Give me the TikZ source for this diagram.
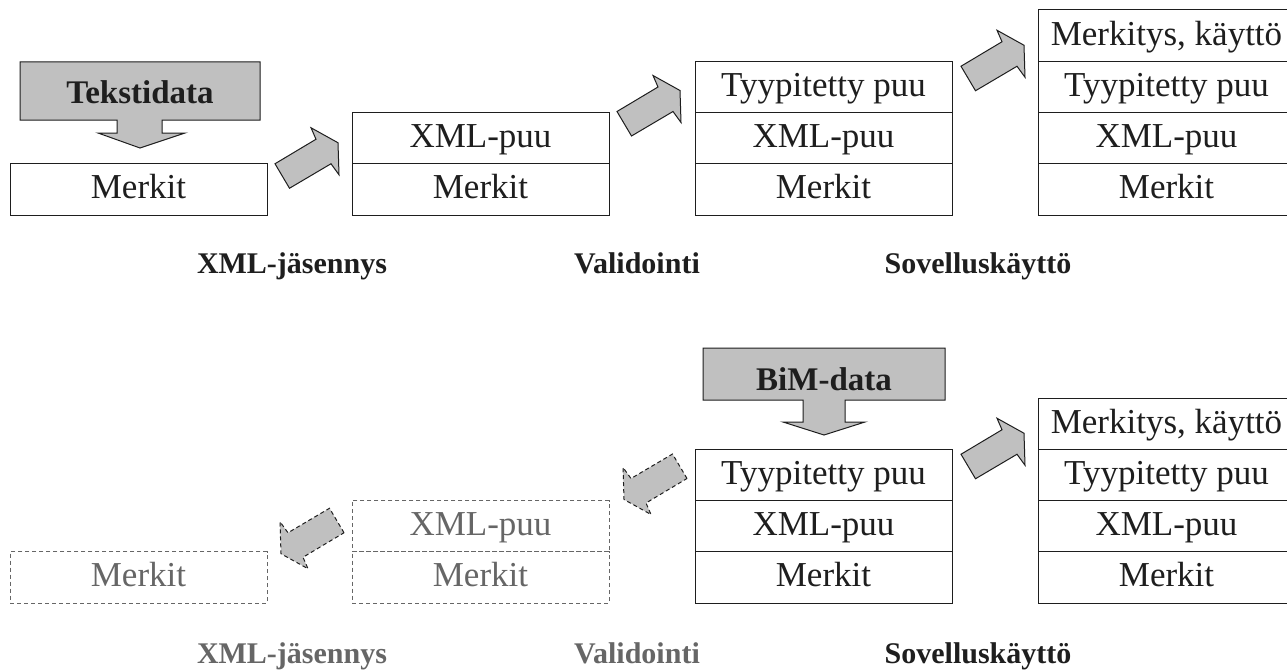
\documentclass[tikz,border=0pt]{standalone}
\usepackage{fontspec}
\setmainfont{Liberation Serif}
\usetikzlibrary{calc}
\definecolor{blockfill}{HTML}{C0C0C0}
\definecolor{ink}{HTML}{1E1E1E}
\definecolor{faded}{HTML}{666666}

\begin{document}
\begin{tikzpicture}[x=1pt, y=-1pt,
  every node/.style={font=\fontsize{35}{42}\selectfont, text=ink},
  cell/.style={draw=ink, line width=1pt, anchor=south west, outer sep=0pt,
    inner sep=0pt, minimum width=257pt, minimum height=51.25pt,
    text height=22pt, text depth=3pt},
  ghost/.style={cell, draw=faded, dash pattern=on 4pt off 3pt, text=faded},
  stage/.style={font=\fontsize{30}{36}\selectfont\bfseries, anchor=base,
    inner sep=0pt},
  ghoststage/.style={stage, text=faded},
  sourcelabel/.style={stage, font=\fontsize{33}{40}\selectfont\bfseries},
  source/.style={draw=ink, line width=1pt, fill=blockfill, line join=miter},
  blockarrow/.pic={
    \path[pic actions] (0,0) -- (14.5,24.5) -- (56,0) -- (64,11) -- (63,-21)
      -- (36,-36) -- (41,-24.5) -- cycle;},
  forward/.style={draw=ink, line width=1pt, fill=blockfill},
  backward/.style={draw=ink, line width=1pt, fill=blockfill,
    dash pattern=on 4pt off 3pt},
]
\useasboundingbox (0,0) rectangle (1287,669);
\fill[white] (0,0) rectangle (1287,669);

% ---------- upper chain: text input ----------
\node[cell] (t1m) at (10,215) {Merkit};

\node[cell] (t2m) at (352,215) {Merkit};
\node[cell] (t2x) at (t2m.north west) {XML-puu};

\node[cell] (t3m) at (695,215) {Merkit};
\node[cell] (t3x) at (t3m.north west) {XML-puu};
\node[cell] (t3t) at (t3x.north west) {Tyypitetty puu};

\node[cell] (t4m) at (1038,215) {Merkit};
\node[cell] (t4x) at (t4m.north west) {XML-puu};
\node[cell] (t4t) at (t4x.north west) {Tyypitetty puu};
\node[cell] (t4k) at (t4t.north west) {Merkitys, k\"aytt\"o};

% source callout
\draw[source] (20,62) -- (260,62) -- (260,120) -- (162,120) -- (162,133)
  -- (185,133) -- (140,148) -- (98,133) -- (117,133) -- (117,120)
  -- (20,120) -- cycle;
\node[sourcelabel] (tsrc) at (140,103) {Tekstidata};

% forward steps
\pic[forward] at ($(t1m.north east)+(8,0)$) {blockarrow};
\pic[forward] at ($(t2x.north east)+(8,-1)$) {blockarrow};
\pic[forward] at ($(t3t.north east)+(9,5)$) {blockarrow};

\node[stage] (tl1) at (292,273) {XML-j\"asennys};
\node[stage] (tl2) at (637,273) {Validointi};
\node[stage] (tl3) at (978,273) {Sovellusk\"aytt\"o};

% ---------- lower chain: binary input ----------
\node[ghost] (b1m) at (10,603) {Merkit};

\node[ghost] (b2m) at (352,603) {Merkit};
\node[ghost] (b2x) at (b2m.north west) {XML-puu};

\node[cell] (b3m) at (695,603) {Merkit};
\node[cell] (b3x) at (b3m.north west) {XML-puu};
\node[cell] (b3t) at (b3x.north west) {Tyypitetty puu};

\node[cell] (b4m) at (1038,603) {Merkit};
\node[cell] (b4x) at (b4m.north west) {XML-puu};
\node[cell] (b4t) at (b4x.north west) {Tyypitetty puu};
\node[cell] (b4k) at (b4t.north west) {Merkitys, k\"aytt\"o};

\draw[source] (703,348) -- (945,348) -- (945,400) -- (845,400) -- (845,422)
  -- (865,422) -- (824,435) -- (783,422) -- (803,422) -- (803,400)
  -- (703,400) -- cycle;
\node[sourcelabel] (bsrc) at (824,390) {BiM-data};

% steps that are skipped
\pic[backward, rotate=180] at ($(b3t.south west)+(-8,-22)$) {blockarrow};
\pic[backward, rotate=180] at ($(b2x.south west)+(-8,-19)$) {blockarrow};
\pic[forward] at ($(b3t.north east)+(9,5)$) {blockarrow};

\node[ghoststage] (bl1) at (292,663) {XML-j\"asennys};
\node[ghoststage] (bl2) at (637,663) {Validointi};
\node[stage] (bl3) at (978,663) {Sovellusk\"aytt\"o};
\end{tikzpicture}
\end{document}
